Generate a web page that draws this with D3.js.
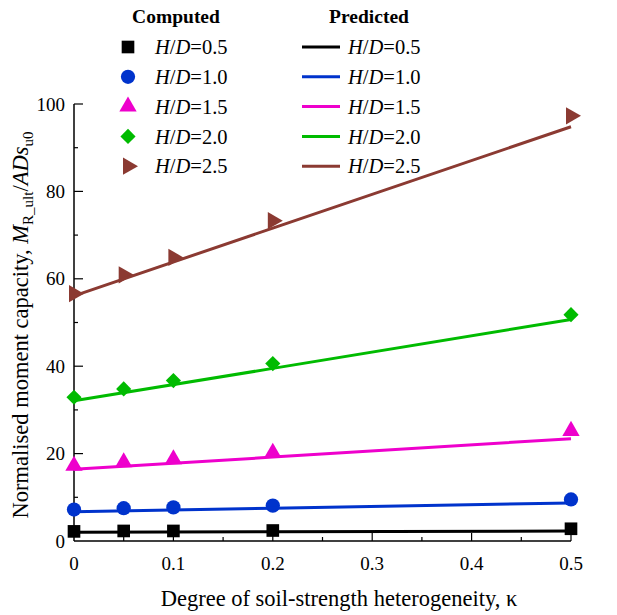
<!DOCTYPE html>
<html>
<head>
<meta charset="utf-8">
<script src="https://cdn.jsdelivr.net/npm/d3@7"></script>
<style>
  body { margin: 0; background: #fff; }
  text { font-family: "Liberation Serif", "Times New Roman", serif; fill: #000; }
</style>
</head>
<body>
<div id="my_dataviz"></div>
<script>
// kappa values of computed points
var kappa = [0, 0.05, 0.1, 0.2, 0.5];
var lineKappa = [0, 0.2, 0.5];

var seriesNames = ["H/D=0.5", "H/D=1.0", "H/D=1.5", "H/D=2.0", "H/D=2.5"];
var colors = ["#000000", "#0033cc", "#ee00cc", "#00bb00", "#8b3a32"];

// computed (markers)
var comp05 = [2.2, 2.3, 2.3, 2.4, 2.8];
var comp10 = [7.2, 7.5, 7.7, 8.1, 9.5];
var comp15 = [17.2, 18.0, 18.7, 20.2, 25.2];
var comp20 = [32.9, 34.8, 36.7, 40.6, 51.8];
var comp25 = [56.6, 60.9, 64.9, 73.3, 97.3];

// predicted (lines)
var pred05 = [2.0, 2.1, 2.3];
var pred10 = [6.7, 7.5, 8.7];
var pred15 = [16.4, 19.2, 23.4];
var pred20 = [32.1, 39.5, 50.7];
var pred25 = [56.1, 71.6, 94.8];

var computed = [comp05, comp10, comp15, comp20, comp25];
var predicted = [pred05, pred10, pred15, pred20, pred25];

var xTicks = [0, 0.1, 0.2, 0.3, 0.4, 0.5];
var yTicks = [0, 20, 40, 60, 80, 100];

var width = 617, height = 615;
var svg = d3.select("#my_dataviz").append("svg")
    .attr("width", width).attr("height", height);

var x = d3.scaleLinear().domain([0, 0.5]).range([74, 571]);
var y = d3.scaleLinear().domain([0, 100]).range([541, 104]);

// x axis: ticks point inward (up)
var xAxis = svg.append("g").attr("transform", "translate(0," + y(0) + ")");
xAxis.append("line").attr("x1", x(0)).attr("x2", x(0.5)).attr("y1", 0).attr("y2", 0)
    .attr("stroke", "#000").attr("stroke-width", 1.5);
xAxis.selectAll(".tickm").data(d3.range(1, 11)).enter().append("line")
    .attr("x1", function (d) { return x(d * 0.05); })
    .attr("x2", function (d) { return x(d * 0.05); })
    .attr("y1", 0)
    .attr("y2", function (d) { return d % 2 === 0 ? -8 : -4; })
    .attr("stroke", "#000").attr("stroke-width", 1.2);
xAxis.selectAll(".xlab").data(xTicks).enter().append("text")
    .attr("x", function (d) { return x(d); })
    .attr("y", 29)
    .attr("text-anchor", "middle")
    .attr("font-size", 19)
    .text(function (d) { return d === 0 ? "0" : d3.format(".1f")(d); });

// y axis: ticks point inward (right)
var yAxis = svg.append("g").attr("transform", "translate(" + x(0) + ",0)");
yAxis.append("line").attr("x1", 0).attr("x2", 0).attr("y1", y(0)).attr("y2", y(100))
    .attr("stroke", "#000").attr("stroke-width", 1.5);
yAxis.selectAll(".tickm").data(d3.range(1, 11)).enter().append("line")
    .attr("x1", 0)
    .attr("x2", function (d) { return d % 2 === 0 ? 9 : 4; })
    .attr("y1", function (d) { return y(d * 10); })
    .attr("y2", function (d) { return y(d * 10); })
    .attr("stroke", "#000").attr("stroke-width", 1.2);
yAxis.selectAll(".ylab").data(yTicks).enter().append("text")
    .attr("x", -9)
    .attr("y", function (d) { return y(d); })
    .attr("dy", "0.35em")
    .attr("text-anchor", "end")
    .attr("font-size", 19)
    .text(function (d) { return d; });

// axis titles
svg.append("text")
    .attr("x", 339).attr("y", 606)
    .attr("text-anchor", "middle")
    .attr("font-size", 22.5)
    .text("Degree of soil-strength heterogeneity, \u03ba");

var yt = svg.append("text")
    .attr("transform", "translate(28,325) rotate(-90)")
    .attr("text-anchor", "middle")
    .attr("font-size", 22.5);
yt.append("tspan").text("Normalised moment capacity, ");
yt.append("tspan").attr("font-style", "italic").text("M");
yt.append("tspan").attr("font-size", 15).attr("dy", 5).text("R_ult");
yt.append("tspan").attr("dy", -5).text("/");
yt.append("tspan").attr("font-style", "italic").text("ADs");
yt.append("tspan").attr("font-size", 15).attr("dy", 5).text("u0");

// marker shapes
var symbols = [
  { type: d3.symbolSquare, size: 160, rot: 0 },
  { type: d3.symbolCircle, size: 160, rot: 0 },
  { type: d3.symbolTriangle, size: 130, rot: 0 },
  { type: d3.symbolSquare, size: 115, rot: 45 },
  { type: d3.symbolTriangle, size: 130, rot: 90 }
];
function sym(i) { return d3.symbol().type(symbols[i].type).size(symbols[i].size)(); }

var line = d3.line()
    .x(function (d, i) { return x(lineKappa[i]); })
    .y(function (d) { return y(d); });

computed.forEach(function (vals, s) {
  svg.selectAll(".pt" + s).data(vals).enter().append("path")
      .attr("d", sym(s))
      .attr("fill", colors[s])
      .attr("transform", function (d, i) {
        return "translate(" + x(kappa[i]) + "," + y(d) + ") rotate(" + symbols[s].rot + ")";
      });
});
predicted.forEach(function (vals, s) {
  svg.append("path").datum(vals)
      .attr("d", line)
      .attr("fill", "none")
      .attr("stroke", colors[s])
      .attr("stroke-width", 3);
});

// legend
svg.append("text").attr("x", 176).attr("y", 23).attr("text-anchor", "middle")
    .attr("font-size", 19.5).attr("font-weight", "bold").text("Computed");
svg.append("text").attr("x", 369).attr("y", 23).attr("text-anchor", "middle")
    .attr("font-size", 19.5).attr("font-weight", "bold").text("Predicted");

function hdLabel(g, tx, ty, name) {
  var t = g.append("text").attr("x", tx).attr("y", ty).attr("dy", "0.35em").attr("font-size", 20.5);
  t.append("tspan").attr("font-style", "italic").text("H");
  t.append("tspan").text("/");
  t.append("tspan").attr("font-style", "italic").text("D");
  t.append("tspan").text(name.replace("H/D", ""));
}

seriesNames.forEach(function (name, s) {
  var ly = 47 + s * 29.8;
  svg.append("path").attr("d", sym(s)).attr("fill", colors[s])
      .attr("transform", "translate(128," + ly + ") rotate(" + symbols[s].rot + ")");
  hdLabel(svg, 155, ly, name);
  svg.append("line").attr("x1", 302).attr("x2", 340).attr("y1", ly).attr("y2", ly)
      .attr("stroke", colors[s]).attr("stroke-width", 3);
  hdLabel(svg, 348, ly, name);
});
</script>
</body>
</html>
